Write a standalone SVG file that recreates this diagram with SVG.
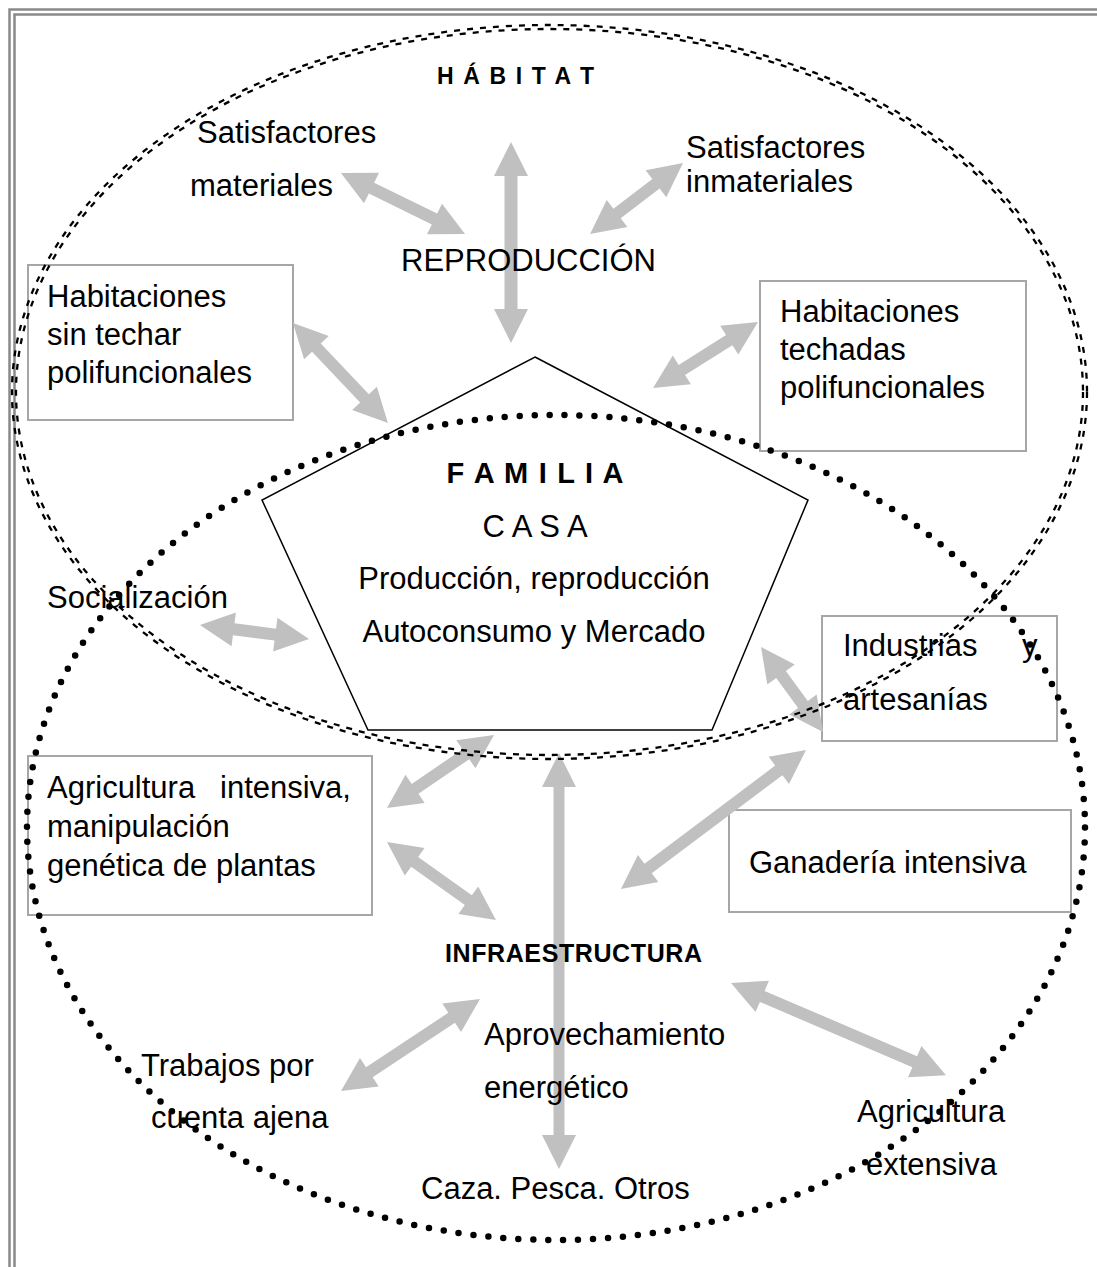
<svg xmlns="http://www.w3.org/2000/svg" width="1097" height="1267" viewBox="0 0 1097 1267">
<style>
.t{font-family:"Liberation Sans",Arial,sans-serif;font-size:31px;fill:#000}
.b{font-family:"Liberation Sans",Arial,sans-serif;font-weight:bold;fill:#000}
.box{fill:none;stroke:#a6a6a6;stroke-width:2}
.arr{fill:#c0c0c0;stroke:none}
.frame{fill:none;stroke:#8a8a8a;stroke-width:2.5}
.dash{fill:none;stroke:#000;stroke-width:2.3;stroke-dasharray:6 7}
.dot{fill:none;stroke:#000;stroke-width:6.5;stroke-linecap:round;stroke-dasharray:0 15}
</style>
<rect width="1097" height="1267" fill="#fff"/>
<path class="frame" d="M9.5,1267 V9.5 H1097 M14.5,1267 V14.5 H1097"/>

<g id="node-hab-sin-techar">
<rect class="box" x="28" y="265" width="265" height="155"/>
<text class="t" x="47" y="307">Habitaciones</text>
<text class="t" x="47" y="345">sin techar</text>
<text class="t" x="47" y="383">polifuncionales</text>
</g>
<g id="node-hab-techadas">
<rect class="box" x="760" y="281" width="266" height="170"/>
<text class="t" x="780" y="322">Habitaciones</text>
<text class="t" x="780" y="360">techadas</text>
<text class="t" x="780" y="398">polifuncionales</text>
</g>
<g id="node-industrias">
<rect class="box" x="822" y="616" width="235" height="125"/>
<text class="t" x="843" y="656">Industrias</text>
<text class="t" x="1022" y="656">y</text>
<text class="t" x="843" y="710">artesanías</text>
</g>
<g id="node-agri-intensiva">
<rect class="box" x="28" y="756" width="344" height="159"/>
<text class="t" x="47" y="798">Agricultura</text>
<text class="t" x="220" y="798">intensiva,</text>
<text class="t" x="47" y="837">manipulación</text>
<text class="t" x="47" y="876">genética de plantas</text>
</g>
<g id="node-ganaderia">
<rect class="box" x="729" y="810" width="342" height="102"/>
<text class="t" x="749" y="873">Ganadería intensiva</text>
</g>

<g id="connectors">
<path class="arr" transform="translate(341,173) rotate(26.2)" d="M0,0 L34,-17 L34,-6 L104.2,-6 L104.2,-17 L138.2,0 L104.2,17 L104.2,6 L34,6 L34,17 Z"/>
<path class="arr" transform="translate(511,142) rotate(90)" d="M0,0 L34,-17 L34,-6.5 L167,-6.5 L167,-17 L201,0 L167,17 L167,6.5 L34,6.5 L34,17 Z"/>
<path class="arr" transform="translate(683,163) rotate(142.6)" d="M0,0 L34,-17 L34,-6 L83,-6 L83,-17 L117,0 L83,17 L83,6 L34,6 L34,17 Z"/>
<path class="arr" transform="translate(293,323) rotate(46.5)" d="M0,0 L34,-17 L34,-6 L103.9,-6 L103.9,-17 L137.9,0 L103.9,17 L103.9,6 L34,6 L34,17 Z"/>
<path class="arr" transform="translate(758,322) rotate(147.8)" d="M0,0 L34,-17 L34,-6 L90,-6 L90,-17 L124,0 L90,17 L90,6 L34,6 L34,17 Z"/>
<path class="arr" transform="translate(200,625) rotate(7.3)" d="M0,0 L34,-17 L34,-6 L75.9,-6 L75.9,-17 L109.9,0 L75.9,17 L75.9,6 L34,6 L34,17 Z"/>
<path class="arr" transform="translate(761,647) rotate(53.9)" d="M0,0 L34,-17 L34,-6 L71.2,-6 L71.2,-17 L105.2,0 L71.2,17 L71.2,6 L34,6 L34,17 Z"/>
<path class="arr" transform="translate(387,808) rotate(-34.3)" d="M0,0 L34,-17 L34,-6 L95.5,-6 L95.5,-17 L129.5,0 L95.5,17 L95.5,6 L34,6 L34,17 Z"/>
<path class="arr" transform="translate(387,842) rotate(35.6)" d="M0,0 L34,-17 L34,-6 L100,-6 L100,-17 L134,0 L100,17 L100,6 L34,6 L34,17 Z"/>
<path class="arr" transform="translate(559,753) rotate(90)" d="M0,0 L34,-17 L34,-5.5 L382,-5.5 L382,-17 L416,0 L382,17 L382,5.5 L34,5.5 L34,17 Z"/>
<path class="arr" transform="translate(806,750) rotate(143.1)" d="M0,0 L34,-17 L34,-6 L197.4,-6 L197.4,-17 L231.4,0 L197.4,17 L197.4,6 L34,6 L34,17 Z"/>
<path class="arr" transform="translate(731,983) rotate(23.2)" d="M0,0 L34,-17 L34,-6 L199.9,-6 L199.9,-17 L233.9,0 L199.9,17 L199.9,6 L34,6 L34,17 Z"/>
<path class="arr" transform="translate(341,1091) rotate(-33.5)" d="M0,0 L34,-17 L34,-6 L132.7,-6 L132.7,-17 L166.7,0 L132.7,17 L132.7,6 L34,6 L34,17 Z"/>
</g>

<g id="node-familia">
<polygon points="535,357 808,500 712,730 368,730 262,500" fill="none" stroke="#000" stroke-width="1.5"/>
<text class="b" x="535" y="483" font-size="29" text-anchor="middle" textLength="177" lengthAdjust="spacing">F A M I L I A</text>
<text class="t" x="535" y="537" text-anchor="middle">C A S A</text>
<text class="t" x="534" y="589" text-anchor="middle">Producción, reproducción</text>
<text class="t" x="534" y="642" text-anchor="middle">Autoconsumo y Mercado</text>
</g>

<g id="node-habitat-label"><text class="b" x="437" y="84" font-size="23" textLength="157" lengthAdjust="spacing">H Á B I T A T</text></g>
<g id="node-sat-materiales"><text class="t" x="197" y="143">Satisfactores</text><text class="t" x="190" y="196">materiales</text></g>
<g id="node-sat-inmateriales"><text class="t" x="686" y="158">Satisfactores</text><text class="t" x="686" y="192">inmateriales</text></g>
<g id="node-reproduccion"><text class="t" x="401" y="271">REPRODUCCIÓN</text></g>
<g id="node-socializacion"><text class="t" x="47" y="608">Socialización</text></g>
<g id="node-infraestructura"><text class="b" x="445" y="962" font-size="25" textLength="257" lengthAdjust="spacing">INFRAESTRUCTURA</text></g>
<g id="node-aprovechamiento"><text class="t" x="484" y="1045">Aprovechamiento</text><text class="t" x="484" y="1098">energético</text></g>
<g id="node-trabajos"><text class="t" x="141" y="1076">Trabajos por</text><text class="t" x="151" y="1128">cuenta ajena</text></g>
<g id="node-agri-extensiva"><text class="t" x="857" y="1122">Agricultura</text><text class="t" x="866" y="1175">extensiva</text></g>
<g id="node-caza"><text class="t" x="421" y="1199">Caza. Pesca. Otros</text></g>

<g id="node-habitat-ellipse">
<ellipse class="dash" cx="549.5" cy="392" rx="537.5" ry="367"/>
<ellipse class="dash" cx="549.5" cy="392" rx="533.5" ry="363"/>
</g>
<g id="node-dotted-ellipse">
<ellipse class="dot" cx="556" cy="827.5" rx="529" ry="412.5"/>
</g>
</svg>
